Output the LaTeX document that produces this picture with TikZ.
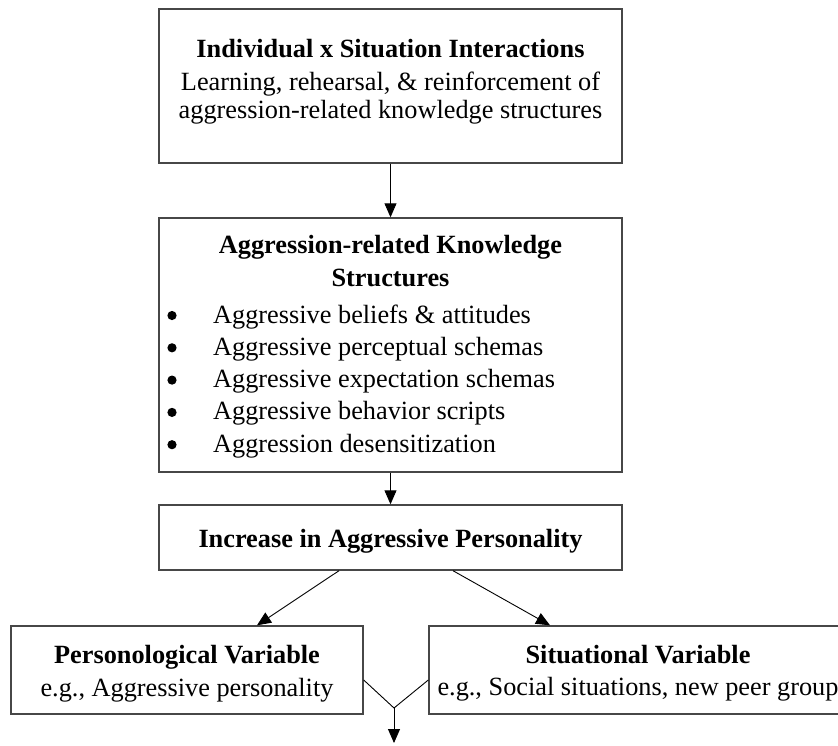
\documentclass[tikz,border=0pt]{standalone}
\usepackage{fontspec}
\setmainfont{Liberation Serif}
\usetikzlibrary{calc,arrows.meta}
\begin{document}
\begin{tikzpicture}[x=1pt,y=-1pt,
  box/.style={draw=black!72,line width=1.4pt,inner sep=0pt,rectangle},
  txt/.style={inner sep=0pt,anchor=base,font=\fontsize{26.3}{32}\selectfont},
  item/.style={txt,anchor=base west},
  bhead/.style={txt,font=\fontsize{26.3}{32}\selectfont\bfseries},
  arr/.style={line width=0.9pt,-{Triangle[width=12pt,length=14pt]}},
  link/.style={line width=0.9pt}]
\useasboundingbox (0,0) rectangle (838,745);

% boxes
\node[box,minimum width=463,minimum height=154] (b1) at (390.5,86) {};
\node[box,minimum width=463,minimum height=254] (b2) at (390.5,345) {};
\node[box,minimum width=463,minimum height=65]  (b3) at (390.5,537.5) {};
\node[box,minimum width=352,minimum height=88]  (b4) at (187,670) {};
\node[box,minimum width=418,minimum height=88]  (b5) at (638,670) {};

% box texts
\node[bhead] (t1a) at (390.5,57) {Individual x Situation Interactions};
\node[txt]   (t1b) at (390.5,90) {Learning, rehearsal, \& reinforcement of};
\node[txt]   (t1c) at (390.5,118) {aggression-related knowledge structures};

\node[bhead] (t2a) at (390.5,253) {Aggression-related Knowledge};
\node[bhead] (t2b) at (390.5,286) {Structures};
\foreach \y/\s [count=\i] in {323/{Aggressive beliefs \& attitudes},
    355.3/{Aggressive perceptual schemas},
    387.6/{Aggressive expectation schemas},
    419.9/{Aggressive behavior scripts},
    452.2/{Aggression desensitization}}{
  \fill (172,\y-7.5) circle (4.6);
  \node[item] (li\i) at (213,\y) {\s};
}

\node[bhead] (t3) at (390.5,547) {Increase in Aggressive Personality};

\node[bhead] (t4a) at (187,663) {Personological Variable};
\node[txt]   (t4b) at (187,696) {e.g., Aggressive personality};

\node[bhead] (t5a) at (638,663) {Situational Variable};
\node[txt]   (t5b) at (638,695) {e.g., Social situations, new peer group};

% connectors
\draw[arr] (b1.south) -- (b2.north);
\draw[arr] (b2.south) -- (b3.north);
\draw[arr] ($(b3.south)+(-51.5,0)$) -- ($(b4.north)+(70,0)$);
\draw[arr] ($(b3.south)+(62.5,0)$) -- ($(b5.north)+(-88,0)$);

\coordinate (join) at (394,708);
\coordinate (out) at (394,743);
\draw[link] ($(b4.east)+(0,10)$) -- (join) -- ($(b5.west)+(0,10)$);
\draw[arr] (join) -- (out);
\end{tikzpicture}
\end{document}
